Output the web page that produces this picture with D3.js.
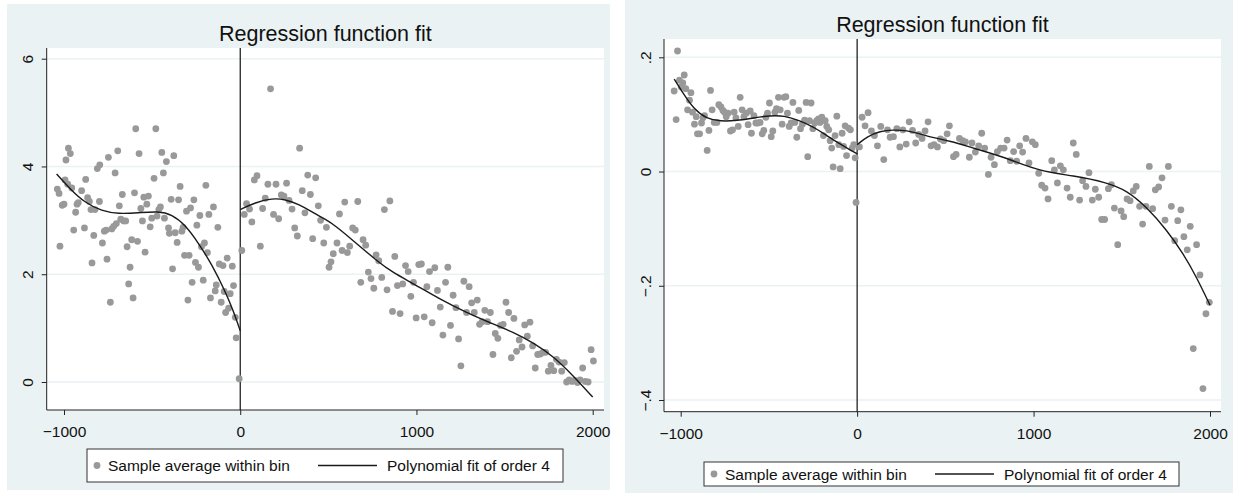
<!DOCTYPE html>
<html>
<head>
<meta charset="utf-8">
<script src="https://cdn.jsdelivr.net/npm/d3@7"></script>
<style>
  body { margin: 0; background: #fff; }
  svg text { font-family: "Liberation Sans", Arial, sans-serif; fill: #111; }
</style>
</head>
<body>
<div id="chart"></div>
<script>
// ---- data ----
const titleText = 'Regression function fit';
const legendLabels = ['Sample average within bin', 'Polynomial fit of order 4'];
const xTicks = [-1000, 0, 1000, 2000];
const yTicksLeft = [0, 2, 4, 6];
const yTicksRight = [-0.4, -0.2, 0, 0.2];
const cutoff = 0;

// left panel: bin averages [running variable, mean]
const leftPanelBins = [
  [-1038,3.58],[-1028,3.50],[-1023,2.52],[-1010,3.28],[-1000,3.30],[-994,3.75],[-989,4.12],[-979,3.67],[-975,4.34],[-964,4.24],
  [-956,3.60],[-945,2.82],[-934,3.15],[-926,3.30],[-919,3.33],[-900,3.55],[-884,2.86],[-877,3.76],[-866,3.42],[-856,3.35],
  [-847,3.20],[-841,2.21],[-831,2.72],[-824,3.20],[-811,3.96],[-799,3.35],[-797,4.03],[-782,2.58],[-771,2.80],[-761,2.82],
  [-756,2.28],[-748,4.17],[-737,1.48],[-729,2.84],[-718,2.89],[-710,3.88],[-703,2.94],[-695,4.29],[-686,3.27],[-678,3.02],
  [-669,3.48],[-661,2.99],[-650,2.99],[-642,2.51],[-633,1.82],[-625,2.13],[-616,2.64],[-608,1.56],[-600,3.51],[-593,4.70],
  [-583,2.61],[-574,4.24],[-564,3.22],[-555,2.99],[-547,3.43],[-540,2.41],[-530,3.30],[-521,3.45],[-511,2.88],[-502,3.04],
  [-489,3.78],[-479,4.70],[-472,3.08],[-462,3.20],[-453,3.25],[-445,4.26],[-436,3.88],[-430,3.04],[-419,4.09],[-407,2.86],
  [-402,2.76],[-392,3.39],[-384,2.10],[-377,4.20],[-369,2.77],[-358,2.59],[-350,3.38],[-341,3.63],[-331,2.80],[-324,2.87],
  [-316,2.35],[-305,3.17],[-297,1.52],[-290,2.35],[-282,3.23],[-273,1.85],[-263,3.38],[-254,2.22],[-246,2.91],[-237,2.13],
  [-229,3.09],[-220,2.51],[-210,1.89],[-203,2.58],[-195,3.65],[-186,2.40],[-178,3.11],[-169,1.56],[-152,3.25],[-142,1.69],
  [-136,1.80],[-127,2.87],[-119,2.19],[-108,1.48],[-98,2.16],[-91,1.68],[-83,1.29],[-74,2.30],[-66,1.37],[-57,1.64],
  [-45,2.15],[-38,1.79],[-28,1.20],[-23,0.82],[-6,0.06],
  [9,2.44],[23,3.11],[36,3.31],[53,3.21],[66,2.97],[80,3.75],[95,3.83],[114,2.52],[127,3.22],[142,3.41],
  [157,3.67],[172,5.44],[189,3.11],[203,3.67],[218,3.03],[233,3.47],[248,3.45],[263,3.69],[277,3.37],[294,3.21],
  [309,2.86],[324,2.71],[337,4.34],[352,3.55],[367,3.14],[383,3.84],[398,3.48],[411,2.66],[428,3.79],[443,3.27],
  [456,3.00],[474,2.58],[489,2.87],[504,2.13],[515,2.23],[528,2.38],[549,2.58],[563,3.12],[578,2.44],[593,3.34],
  [608,2.40],[621,2.52],[638,2.86],[653,2.82],[667,3.35],[684,1.85],[697,2.64],[712,2.54],[727,2.04],[742,1.92],
  [758,1.74],[771,2.36],[786,2.25],[803,1.94],[818,3.20],[833,1.71],[849,3.36],[864,1.31],[877,2.33],[892,1.79],
  [907,1.27],[922,1.82],[938,2.16],[953,2.05],[968,1.59],[983,1.85],[998,1.19],[1013,2.18],[1028,2.19],[1044,1.21],
  [1059,1.77],[1074,2.05],[1089,1.10],[1104,2.12],[1119,1.70],[1135,1.39],[1150,0.87],[1165,1.85],[1178,2.13],[1193,1.05],
  [1208,1.61],[1224,1.38],[1239,0.80],[1252,0.30],[1269,1.87],[1284,1.29],[1299,1.77],[1313,1.47],[1328,1.29],[1345,1.52],
  [1358,1.07],[1373,1.12],[1388,1.33],[1403,1.12],[1419,1.29],[1434,0.51],[1447,0.90],[1462,0.81],[1477,1.05],[1492,1.07],
  [1508,1.48],[1523,1.29],[1538,0.45],[1553,1.18],[1568,0.57],[1583,0.78],[1599,0.65],[1614,1.06],[1629,0.85],[1644,1.11],
  [1659,0.67],[1674,0.26],[1688,0.51],[1703,0.52],[1718,0.55],[1733,0.55],[1748,0.20],[1763,0.31],[1779,0.21],[1794,0.42],
  [1809,0.37],[1824,0.20],[1839,0.36],[1852,0.00],[1867,0.04],[1883,0.01],[1898,0.03],[1913,-0.01],[1928,0.04],[1943,0.26],
  [1958,0.01],[1974,0.00],[1991,0.60],[2004,0.39]
];
// left panel: quartic fit, each side of the cutoff
const leftPanelFitBelow = [
  [-1042,3.86],[-956,3.55],[-881,3.33],[-786,3.17],[-691,3.12],[-578,3.14],[-464,3.17],
  [-388,3.11],[-313,2.92],[-237,2.58],[-161,2.18],[-85,1.68],[-38,1.31],[0,0.95]
];
const leftPanelFitAbove = [
  [0,3.20],[85,3.33],[180,3.41],[256,3.39],[331,3.30],[426,3.12],[483,3.02],[540,2.90],[635,2.64],
  [786,2.22],[862,2.04],[985,1.82],[1136,1.53],[1288,1.28],[1402,1.12],[1553,0.92],[1667,0.72],
  [1780,0.47],[1894,0.10],[2000,-0.28]
];

// right panel: bin averages
const rightPanelBins = [
  [-1037,0.141],[-1026,0.091],[-1018,0.211],[-1007,0.160],[-997,0.148],[-988,0.155],[-980,0.169],[-971,0.145],[-961,0.108],[-950,0.125],
  [-942,0.138],[-933,0.104],[-922,0.083],[-912,0.096],[-905,0.066],[-893,0.066],[-882,0.085],[-874,0.094],[-865,0.098],[-850,0.037],
  [-840,0.072],[-831,0.142],[-822,0.108],[-810,0.086],[-795,0.086],[-784,0.117],[-772,0.113],[-761,0.107],[-752,0.104],[-742,0.096],
  [-731,0.102],[-718,0.071],[-706,0.073],[-697,0.104],[-687,0.094],[-674,0.079],[-663,0.130],[-652,0.108],[-642,0.096],[-629,0.102],
  [-618,0.082],[-606,0.106],[-599,0.067],[-585,0.098],[-574,0.085],[-563,0.085],[-550,0.086],[-538,0.066],[-529,0.072],[-517,0.095],
  [-508,0.102],[-497,0.120],[-487,0.061],[-478,0.071],[-466,0.104],[-457,0.110],[-446,0.130],[-436,0.108],[-425,0.083],[-414,0.130],
  [-404,0.131],[-395,0.102],[-385,0.079],[-374,0.085],[-364,0.121],[-353,0.086],[-342,0.060],[-331,0.107],[-321,0.075],[-310,0.083],
  [-298,0.090],[-289,0.121],[-280,0.026],[-270,0.089],[-261,0.120],[-251,0.075],[-240,0.085],[-229,0.089],[-219,0.092],[-210,0.086],
  [-200,0.095],[-191,0.063],[-181,0.089],[-172,0.079],[-161,0.073],[-153,0.054],[-144,0.041],[-136,0.008],[-125,0.063],[-115,0.097],
  [-104,0.047],[-96,0.005],[-85,0.067],[-77,0.044],[-68,0.080],[-60,0.028],[-49,0.076],[-38,0.073],[-28,0.041],[-19,0.047],
  [-11,0.024],[-6,-0.054],
  [13,0.043],[28,0.095],[45,0.080],[62,0.103],[81,0.071],[98,0.063],[115,0.045],[134,0.079],[151,0.021],[172,0.073],
  [187,0.060],[206,0.061],[225,0.075],[242,0.043],[259,0.073],[278,0.048],[295,0.087],[314,0.072],[332,0.050],[349,0.065],
  [368,0.058],[385,0.071],[402,0.087],[419,0.045],[436,0.047],[455,0.043],[472,0.057],[491,0.054],[510,0.066],[523,0.080],
  [546,0.026],[561,0.030],[580,0.058],[598,0.054],[614,0.052],[636,0.025],[651,0.050],[670,0.034],[689,0.045],[706,0.067],
  [723,0.041],[744,-0.005],[759,0.025],[778,0.012],[795,0.035],[814,0.041],[833,0.041],[850,0.055],[868,0.019],[887,0.035],
  [904,0.018],[921,0.045],[938,0.034],[957,0.058],[974,0.015],[993,0.052],[1010,0.047],[1029,-0.003],[1046,-0.024],[1065,-0.029],
  [1082,-0.048],[1103,0.019],[1118,0.003],[1135,-0.020],[1152,0.010],[1169,0.003],[1190,-0.029],[1208,-0.045],[1225,0.050],[1242,0.030],
  [1261,-0.050],[1278,-0.016],[1297,-0.026],[1314,-0.002],[1333,-0.050],[1350,-0.031],[1369,-0.045],[1386,-0.084],[1403,-0.084],[1424,-0.030],
  [1441,-0.023],[1458,-0.064],[1477,-0.128],[1496,-0.069],[1511,-0.079],[1530,-0.048],[1547,-0.051],[1565,-0.034],[1582,-0.026],[1601,-0.061],
  [1618,-0.092],[1637,-0.061],[1656,0.009],[1675,-0.065],[1690,-0.032],[1709,-0.027],[1728,-0.011],[1745,-0.085],[1764,0.009],[1781,-0.061],
  [1800,-0.121],[1817,-0.086],[1835,-0.067],[1852,-0.114],[1871,-0.137],[1888,-0.096],[1905,-0.310],[1924,-0.128],[1943,-0.181],[1960,-0.380],
  [1977,-0.249],[1996,-0.229]
];
const rightPanelFitBelow = [
  [-1037,0.162],[-984,0.136],[-927,0.110],[-852,0.092],[-776,0.088],[-682,0.089],[-587,0.094],[-493,0.098],
  [-417,0.098],[-323,0.089],[-247,0.078],[-172,0.063],[-96,0.048],[-40,0.038],[0,0.031]
];
const rightPanelFitAbove = [
  [0,0.047],[55,0.061],[130,0.071],[206,0.073],[281,0.072],[357,0.066],[432,0.059],[523,0.054],[659,0.041],
  [848,0.024],[1037,0.000],[1225,-0.007],[1414,-0.019],[1528,-0.033],[1641,-0.062],[1754,-0.102],[1849,-0.144],
  [1924,-0.185],[2000,-0.234]
];

// ---- layout of the two graph windows ----
const panels = [
  {
    bg: [7, 4, 610, 490], plot: [46.7, 48, 604, 410],
    xRange: [64, 592.7], yDomain: [0, 6], yRange: [382, 58.7], yTicks: yTicksLeft,
    bins: leftPanelBins, fits: [leftPanelFitBelow, leftPanelFitAbove],
    titleY: 41, legend: [87, 449, 563, 482], fmt: d3.format('d')
  },
  {
    bg: [625, 0, 1233, 493], plot: [664, 39, 1221, 411.7],
    xRange: [680.7, 1210], yDomain: [-0.4, 0.2], yRange: [400, 57.3], yTicks: yTicksRight,
    bins: rightPanelBins, fits: [rightPanelFitBelow, rightPanelFitAbove],
    titleY: 32, legend: [704, 462, 1179, 486],
    fmt: d => d === 0 ? '0' : d3.format('.1f')(d).replace('0.', '.')
  }
];

const BG = '#eaf2f3';
const DOT = '#999999';

const svg = d3.select('#chart').append('svg')
  .attr('width', 1233).attr('height', 493);

function drawPanel(p) {
  const g = svg.append('g');
  const [pl, pt, pr, pb] = p.plot;

  // outer graph region + white plot region
  g.append('rect')
    .attr('x', p.bg[0]).attr('y', p.bg[1])
    .attr('width', p.bg[2] - p.bg[0]).attr('height', p.bg[3] - p.bg[1])
    .attr('fill', BG);
  g.append('rect')
    .attr('x', pl).attr('y', pt).attr('width', pr - pl).attr('height', pb - pt)
    .attr('fill', '#fff');

  const x = d3.scaleLinear().domain([xTicks[0], xTicks[xTicks.length - 1]]).range(p.xRange);
  const y = d3.scaleLinear().domain(p.yDomain).range(p.yRange);

  // horizontal grid
  g.append('g').selectAll('line')
    .data(p.yTicks)
    .enter().append('line')
    .attr('x1', pl).attr('x2', pr)
    .attr('y1', d => y(d)).attr('y2', d => y(d))
    .attr('stroke', BG).attr('stroke-width', 1.5);

  // y axis (labels rotated, Stata style)
  const yAxis = g.append('g')
    .attr('transform', `translate(${pl},0)`)
    .call(d3.axisLeft(y).tickValues(p.yTicks).tickSize(5).tickFormat(p.fmt));
  yAxis.select('.domain').remove();
  yAxis.selectAll('.tick line').attr('stroke', '#222');
  yAxis.selectAll('.tick text')
    .attr('x', 0).attr('y', -13.5).attr('dy', 0)
    .attr('transform', 'rotate(-90)')
    .attr('text-anchor', 'middle')
    .style('font-size', '15.5px');

  // x axis
  const xAxis = g.append('g')
    .attr('transform', `translate(0,${pb})`)
    .call(d3.axisBottom(x).tickValues(xTicks).tickSize(5).tickFormat(d3.format('d')));
  xAxis.select('.domain').remove();
  xAxis.selectAll('.tick line').attr('stroke', '#222');
  xAxis.selectAll('.tick text')
    .attr('y', 27).attr('dy', 0)
    .style('font-size', '15.5px');

  // axis lines spanning the plot region
  g.append('line').attr('x1', pl).attr('x2', pl).attr('y1', pt).attr('y2', pb)
    .attr('stroke', '#222').attr('stroke-width', 1);
  g.append('line').attr('x1', pl).attr('x2', pr).attr('y1', pb).attr('y2', pb)
    .attr('stroke', '#222').attr('stroke-width', 1);

  // cutoff line
  g.append('line')
    .attr('x1', x(cutoff)).attr('x2', x(cutoff))
    .attr('y1', pt).attr('y2', pb)
    .attr('stroke', '#111').attr('stroke-width', 1.2);

  // bin means
  g.append('g').selectAll('circle')
    .data(p.bins)
    .enter().append('circle')
    .attr('cx', d => x(d[0]))
    .attr('cy', d => y(d[1]))
    .attr('r', 3.4)
    .attr('fill', DOT);

  // polynomial fit, separately on each side (basis spline smooths the read-off points)
  const line = d3.line()
    .x(d => x(d[0]))
    .y(d => y(d[1]))
    .curve(d3.curveBasis);
  p.fits.forEach(f => {
    g.append('path')
      .attr('d', line(f))
      .attr('fill', 'none')
      .attr('stroke', '#1a1a1a')
      .attr('stroke-width', 1.4);
  });

  // title
  g.append('text')
    .attr('x', (pl + pr) / 2).attr('y', p.titleY)
    .attr('text-anchor', 'middle')
    .style('font-size', '21.5px')
    .text(titleText);

  // legend
  const [lx0, ly0, lx1, ly1] = p.legend;
  const ly = (ly0 + ly1) / 2;
  g.append('rect')
    .attr('x', lx0).attr('y', ly0).attr('width', lx1 - lx0).attr('height', ly1 - ly0)
    .attr('fill', '#fff').attr('stroke', '#333').attr('stroke-width', 1);
  g.append('circle').attr('cx', lx0 + 10).attr('cy', ly).attr('r', 3.4).attr('fill', DOT);
  g.append('text').attr('x', lx0 + 21).attr('y', ly + 5.5)
    .style('font-size', '15.5px').text(legendLabels[0]);
  g.append('line')
    .attr('x1', lx0 + 231).attr('x2', lx0 + 290).attr('y1', ly).attr('y2', ly)
    .attr('stroke', '#1a1a1a').attr('stroke-width', 1.4);
  g.append('text').attr('x', lx0 + 300).attr('y', ly + 5.5)
    .style('font-size', '15.5px').text(legendLabels[1]);
}

panels.forEach(drawPanel);
</script>
</body>
</html>
